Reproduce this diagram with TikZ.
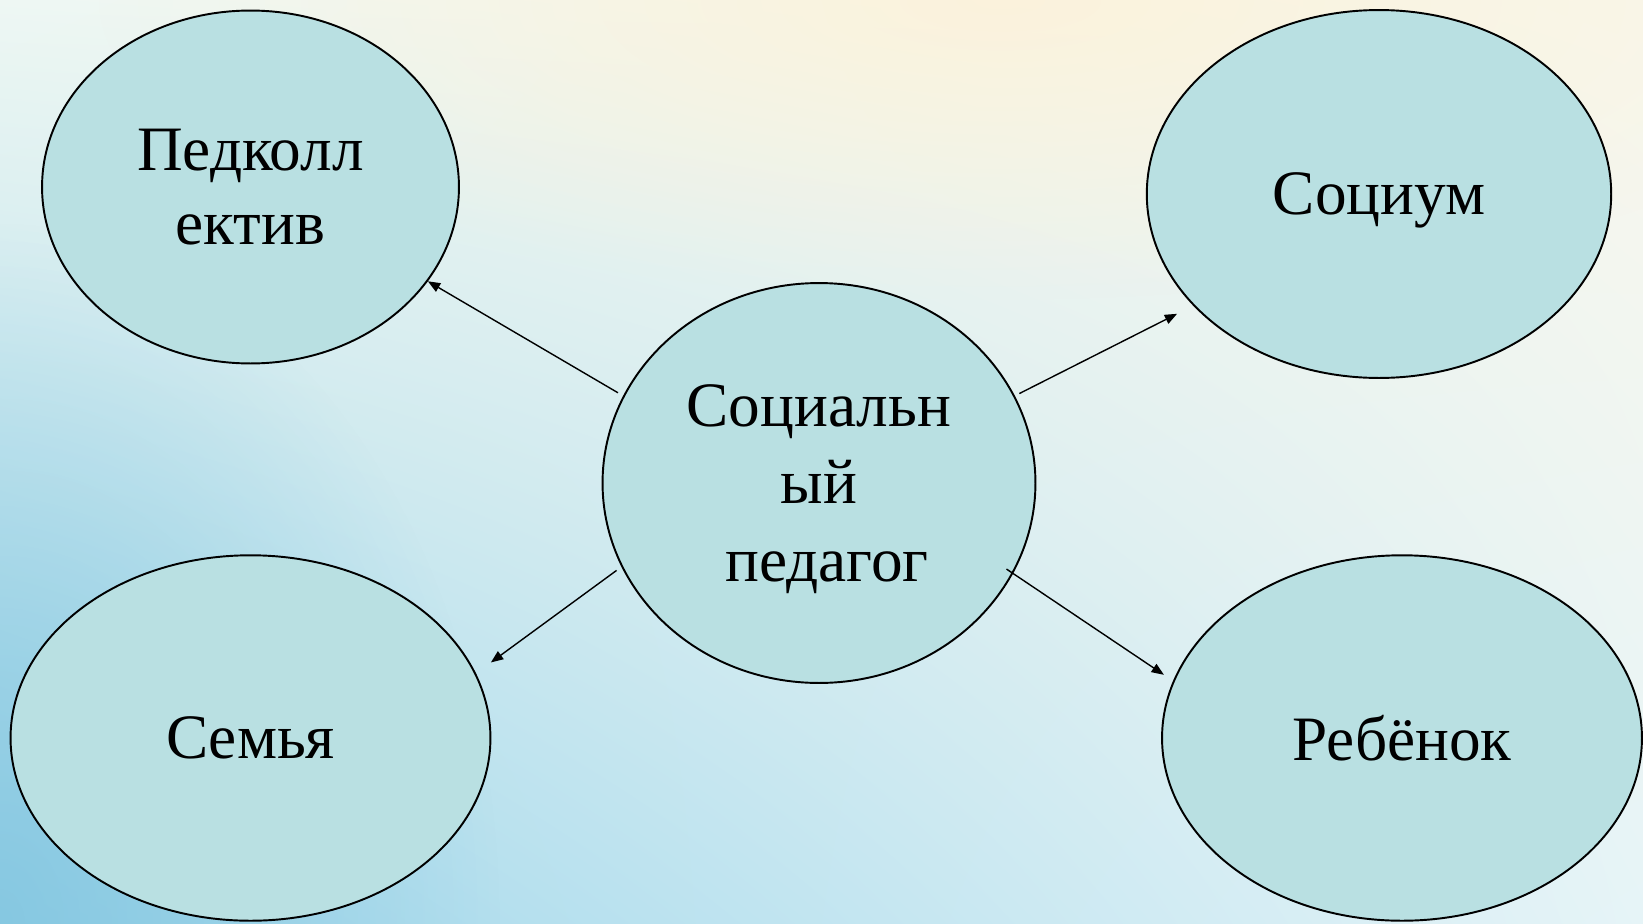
\documentclass[tikz,border=0pt]{standalone}
\usepackage{fontspec}
\setmainfont{Liberation Serif}
\usetikzlibrary{shapes.geometric,arrows.meta,shadings,fadings}
\definecolor{bubblefill}{HTML}{B9E0E2}
\definecolor{bgul}{HTML}{EEF7F3}
\definecolor{bgur}{HTML}{F9F7EC}
\definecolor{bgll}{HTML}{9ED6EA}
\definecolor{bglr}{HTML}{E6F4F7}
\definecolor{bgdeep}{HTML}{7CC2DE}
\definecolor{bgwarm}{HTML}{FCF2DA}
\tikzfading[name=softblob, inner color=transparent!0, outer color=transparent!100]
\begin{document}
\begin{tikzpicture}[x=0.02cm, y=-0.02cm,
  bubble/.style={draw, ellipse, fill=bubblefill, line width=1.1pt, inner sep=0pt,
    text depth=0pt, align=center, font=\fontsize{36}{42}\selectfont},
  link/.style={draw, line width=0.8pt, -{Triangle[length=7pt,width=5.5pt]}}]
% background
\useasboundingbox (0,0) rectangle (1643,923);
\shade[upper left=bgul, upper right=bgur, lower left=bgll, lower right=bglr] (0,0) rectangle (1643,923);
\fill[bgwarm, path fading=softblob, opacity=0.9] (1000,0) ellipse (900 and 300);
\fill[bgdeep, path fading=softblob, opacity=0.7] (0,923) ellipse (500 and 700);
\begin{scope}
\node[bubble, minimum width=8.66cm, minimum height=8cm, font=\fontsize{36}{44}\selectfont] (ped1) at (819,483) {Социальн\\ый\\\ педагог};
\node[bubble, minimum width=8.34cm, minimum height=7.06cm] (ped2) at (250.5,187) {Педколл\\ектив};
\node[bubble, minimum width=9.29cm, minimum height=7.36cm] (soc) at (1379,194) {Социум};
\node[bubble, minimum width=9.6cm, minimum height=7.31cm] (sem) at (250.5,738) {Семья};
\node[bubble, minimum width=9.6cm, minimum height=7.31cm] (reb) at (1402,738) {Ребёнок};
\path[link, shorten <=0.12cm] (ped1.156.4) -- (ped2.-28.4);
\path[link, shorten <=0.1cm, shorten >=0.36cm] (ped1.24) -- (soc.211.2);
\path[link, shorten <=0.12cm, shorten >=0.37cm] (ped1.203.6) -- (sem.16.7);
\path[link, shorten <=-0.16cm, shorten >=0.22cm] (ped1.-25.4) -- (reb.166.6);
\end{scope}
\end{tikzpicture}
\end{document}
